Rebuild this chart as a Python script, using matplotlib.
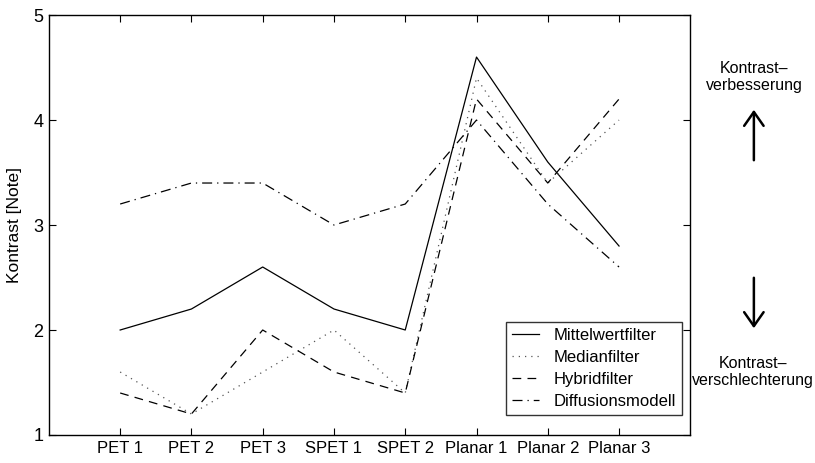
import matplotlib
matplotlib.use("Agg")
import matplotlib.pyplot as plt
from matplotlib.patches import FancyArrowPatch
import numpy as np

categories = ["PET 1", "PET 2", "PET 3", "SPET 1", "SPET 2", "Planar 1", "Planar 2", "Planar 3"]
mittelwert = [2.0, 2.2, 2.6, 2.2, 2.0, 4.6, 3.6, 2.8]
median = [1.6, 1.2, 1.6, 2.0, 1.4, 4.4, 3.4, 4.0]
hybrid = [1.4, 1.2, 2.0, 1.6, 1.4, 4.2, 3.4, 4.2]
diffusion = [3.2, 3.4, 3.4, 3.0, 3.2, 4.0, 3.2, 2.6]
y_ticks = [1, 2, 3, 4, 5]

font = ["Liberation Sans", "DejaVu Sans"]

fig = plt.figure(figsize=(8.15, 4.63), dpi=100)
ax = fig.add_axes([0.060, 0.0605, 0.787, 0.907])

x = np.arange(1, len(categories) + 1)
ax.plot(x, mittelwert, color="black", lw=0.9, ls="-", label="Mittelwertfilter")
ax.plot(x, median, color="#555555", lw=0.9, ls=(0, (1, 4)), label="Medianfilter")
ax.plot(x, hybrid, color="black", lw=0.9, ls=(0, (7, 5)), label="Hybridfilter")
ax.plot(x, diffusion, color="black", lw=0.9, ls=(0, (8, 4, 1, 4)), label="Diffusionsmodell")

ax.set_xlim(0, len(categories) + 1)
ax.set_ylim(1, 5)
ax.set_xticks(x)
ax.set_xticklabels(categories, family=font, fontsize=12)
ax.set_yticks(y_ticks)
ax.set_yticklabels([str(v) for v in y_ticks], family=font, fontsize=13)
ax.tick_params(direction="in", top=True, right=True, length=5, width=0.8, pad=4)
for s in ax.spines.values():
    s.set_linewidth(1.0)
ax.set_ylabel("Kontrast [Note]", family=font, fontsize=12.5, labelpad=8)

leg = ax.legend(loc="lower right", bbox_to_anchor=(0.987, 0.048), frameon=True, fancybox=False,
                edgecolor="black", prop={"family": font, "size": 12},
                handlelength=1.6, labelspacing=0.42, borderpad=0.35, handletextpad=0.9,
                borderaxespad=0)
leg.get_frame().set_linewidth(1.0)

# annotation on the right side
fig.text(0.925, 1 - 77 / 463, "Kontrast\u2013\nverbesserung", ha="center", va="center",
         family=font, fontsize=11.5, linespacing=1.15)
fig.text(0.924, 1 - 372 / 463, "Kontrast\u2013\nverschlechterung", ha="center", va="center",
         family=font, fontsize=11.5, linespacing=1.15)
fig.patches.append(FancyArrowPatch(
    (0.925, 1 - 163 / 463), (0.925, 1 - 107 / 463), transform=fig.transFigure,
    arrowstyle="->,head_length=10,head_width=7", lw=1.8, color="black", mutation_scale=1))
fig.patches.append(FancyArrowPatch(
    (0.925, 1 - 275 / 463), (0.925, 1 - 331 / 463), transform=fig.transFigure,
    arrowstyle="->,head_length=10,head_width=7", lw=1.8, color="black", mutation_scale=1))

fig.savefig("out.png", dpi=100)
